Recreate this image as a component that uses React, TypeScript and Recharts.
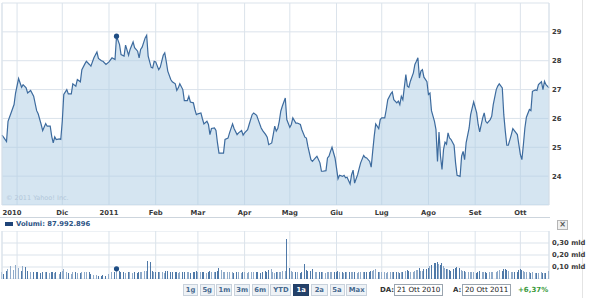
import React from 'react';
import {
  ComposedChart,
  Area,
  Bar,
  Cell,
  XAxis,
  YAxis,
  CartesianGrid,
  ReferenceLine,
  ReferenceDot,
} from 'recharts';

// calendar day offset from 21 Oct 2010
const days = [
  1, 2, 4, 5, 7, 9, 10, 12, 14, 15, 17, 18, 20, 22, 24, 25, 27, 28, 30, 31,
  33, 34, 35, 36, 37, 39, 40, 41, 42, 44, 45, 47, 48, 50, 51, 53, 54, 56, 57, 59,
  60, 62, 64, 65, 67, 68, 70, 72, 74, 76, 77, 79, 80, 82, 83, 85, 86, 88, 89, 91,
  92,
  93, 94, 96, 97, 98, 100, 101, 102, 103, 105, 106, 108, 109, 110, 111, 113, 114, 116, 117, 118,
  119, 121, 122, 124, 125, 126, 128, 129, 130, 131, 133, 134, 135, 137, 138, 139, 140, 142, 143, 144,
  145, 147, 148, 149, 151, 152, 154, 155, 157, 158, 160, 161, 162, 164, 165, 167, 168, 170, 171, 173,
  174, 176, 177, 178, 180, 181, 182, 183, 184,
  185, 186, 187, 189, 190, 192, 193, 194, 196, 197, 199, 200, 202, 203, 204, 206, 207, 209, 210, 212,
  213, 214, 216, 217, 218, 219, 220, 222, 223, 224, 225, 227, 228, 229, 230, 232, 233, 234, 235, 237,
  238, 239, 241, 242, 243, 245, 246, 247, 248, 249, 251, 252, 253, 255, 256, 257, 259, 260, 261, 263,
  264, 265, 266, 267, 269, 270, 271, 272, 274, 275, 276,
  277, 278, 279, 280, 281, 283, 284, 285, 286, 288, 289, 290, 291, 292, 293, 294, 295, 296, 297, 298,
  299, 301, 302, 303, 305, 306, 307, 308, 309, 311, 312, 313, 314, 316, 317, 318, 320, 321, 322, 323,
  325, 326, 327, 329, 330, 331, 333, 334, 335, 336, 337, 339, 340, 341, 343, 344, 345, 346, 347, 348,
  349, 351, 352, 353, 355, 356, 357, 359, 360, 361, 362, 364,
];

const closes = [
  25.42, 25.35, 25.2, 25.9, 26.19, 26.48, 26.88, 27.38, 27.08, 27.17, 27.06, 26.88, 26.97, 26.77, 26.27, 26.16, 25.79, 25.58, 25.82, 25.73,
  25.73, 25.38, 25.15, 25.36, 25.27, 25.29, 25.27, 25.9, 26.83, 27.0, 26.85, 26.85, 27.2, 27.12, 27.35, 27.27, 27.69, 27.89, 27.98, 27.87,
  27.81, 28.1, 28.3, 28.08, 28.0, 27.98, 27.87, 27.96, 28.1, 28.04, 28.85, 28.56, 28.21, 28.16, 28.54, 28.19, 28.39, 28.65, 28.45, 28.33,
  28.1,
  28.39, 28.47, 28.79, 28.88, 28.16, 27.77, 27.75, 27.98, 27.96, 27.69, 27.77, 28.19, 28.27, 27.98, 27.64, 27.35, 27.27, 27.2, 26.97, 27.06,
  27.2, 27.0, 26.62, 26.62, 26.77, 26.57, 26.54, 26.31, 26.13, 26.16, 26.19, 25.99, 25.81, 25.9, 25.79, 25.44, 25.65, 25.67, 25.58, 25.15,
  24.8, 24.8, 24.8, 25.27, 25.32, 25.5, 25.81, 25.65, 25.44, 25.5, 25.58, 25.42, 25.5, 25.61, 25.79, 26.13, 26.19, 26.11, 25.96, 25.67,
  25.58, 25.44, 25.35, 25.09, 25.15, 25.44, 25.73, 25.56, 25.65,
  25.9, 26.25, 26.42, 26.71, 25.96, 25.69, 25.79, 26.02, 25.84, 25.84, 25.79, 25.61, 25.35, 25.32, 25.03, 24.57, 24.51, 24.63, 24.69, 24.46,
  24.17, 24.17, 24.19, 24.63, 24.69, 24.86, 25.0, 24.63, 24.28, 23.91, 24.03, 23.99, 24.03, 23.94, 23.96, 23.73, 24.05, 24.21, 23.76, 24.05,
  24.26, 24.46, 24.72, 24.65, 24.63, 24.51, 24.31, 24.86, 25.38, 25.81, 25.65, 25.96, 26.02, 26.02, 26.31, 26.65, 26.85, 26.92, 26.65, 26.54,
  26.6, 26.48, 26.77, 26.65, 27.52, 27.12, 27.08, 27.29, 27.58, 27.87, 27.98,
  28.1, 27.4, 27.64, 27.69, 27.43, 27.27, 26.83, 26.88, 26.27, 25.9, 25.61, 24.51, 25.53, 24.69, 24.23, 24.92, 25.18, 25.11, 25.5, 25.32,
  25.27, 25.07, 24.46, 24.03, 23.99, 24.69, 24.86, 24.57, 25.15, 25.67, 26.13, 26.36, 26.57, 26.19, 25.79, 25.53, 26.02, 26.19, 25.9, 25.84,
  25.96, 26.08, 26.48, 27.0, 27.12, 27.2, 27.06, 26.13, 25.56, 25.07, 25.07, 25.44, 25.65, 25.58, 25.44, 25.09, 24.75, 24.57, 25.09, 25.67,
  26.04, 26.31, 26.27, 26.94, 26.99, 26.97, 27.17, 27.27, 27.0, 27.29, 27.17, 27.06,
];

// volumes in millions of shares
const volumes = [
  60, 45, 70, 85, 110, 75, 120, 90, 70, 105, 100, 65, 60, 55, 62, 58, 50, 60, 55, 58,
  52, 60, 55, 48, 55, 45, 60, 70, 80, 55, 50, 45, 55, 60, 52, 48, 58, 62, 55, 60,
  45, 35, 32, 28, 25, 30, 22, 40, 55, 60, 85, 70, 55, 60, 50, 58, 55, 52, 60, 48,
  55,
  60, 58, 65, 70, 150, 145, 70, 55, 62, 58, 55, 60, 52, 65, 70, 58, 62, 55, 60, 52,
  58, 62, 55, 60, 58, 52, 55, 60, 65, 58, 62, 55, 60, 52, 58, 65, 55, 60, 58, 70,
  88, 75, 62, 55, 58, 60, 55, 52, 58, 55, 50, 55, 60, 52, 58, 55, 62, 55, 60, 52,
  58, 65, 60, 75, 80, 55, 50, 58, 62,
  60, 55, 70, 65, 330, 95, 70, 60, 55, 58, 52, 60, 125, 75, 70, 65, 80, 60, 55, 62,
  58, 55, 52, 60, 58, 55, 62, 60, 58, 65, 55, 60, 52, 58, 55, 62, 58, 55, 60, 52,
  58, 55, 62, 55, 60, 58, 65, 70, 75, 80, 62, 58, 55, 60, 52, 58, 62, 55, 60, 58,
  55, 52, 58, 62, 70, 75, 65, 58, 62, 68, 72,
  75, 90, 70, 65, 80, 85, 95, 110, 120, 135, 130, 140, 125, 115, 130, 110, 95, 85, 80, 75,
  70, 85, 95, 100, 90, 75, 70, 65, 60, 55, 60, 58, 55, 52, 58, 65, 60, 55, 58, 52,
  60, 55, 58, 62, 70, 75, 65, 80, 85, 75, 70, 62, 58, 55, 60, 72, 80, 78, 70, 62,
  58, 55, 52, 55, 50, 52, 48, 55, 50, 52, 48, 65,
];

const monthTicks = [11, 41, 72, 103, 131, 162, 192, 223, 253, 284, 315, 345];
const monthLabels = ['2010', 'Dic', '2011', 'Feb', 'Mar', 'Apr', 'Mag', 'Giu', 'Lug', 'Ago', 'Set', 'Ott'];
const priceTicks = [23, 24, 25, 26, 27, 28, 29, 30];
const priceLabels = ['', '24', '25', '26', '27', '28', '29', ''];
const volTicks = [0, 100, 200, 300, 400];
const volLabels = ['', '0,10 mld', '0,20 mld', '0,30 mld', ''];
const eventDay = 77;
const ranges = ['1g', '5g', '1m', '3m', '6m', 'YTD', '1a', '2a', '5a', 'Max'];
const selectedRange = '1a';
const fromDate = '21 Ott 2010';
const toDate = '20 Ott 2011';
const changeText = '+6,37%';
const volumeText = 'Volumi: 87.992.896';
const copyright = '© 2011 Yahoo! Inc.';

const priceData = days.map((d, i) => ({
  day: d,
  close: closes[i],
  vol: volumes[i] ?? 0,
  up: i === 0 || closes[i] >= closes[i - 1],
}));
const eventPoint = priceData.find((p) => p.day === eventDay)!;

const FONT = '"DejaVu Sans", Verdana, sans-serif';
const GRID = '#dbe3eb';
const tickStyle: React.CSSProperties = { fontFamily: FONT, fontSize: 6.8, fontWeight: 'bold', fill: '#3a3a3a' };

const MonthTick = (props: any) => {
  const { x, y, payload, index } = props;
  const i = monthTicks.indexOf(payload.value);
  const dx = index === 0 ? -5 : 0;
  return (
    <text x={x + dx} y={y} dy="0.71em" textAnchor="middle" style={tickStyle}>
      {monthLabels[i]}
    </text>
  );
};

const PriceTick = (props: any) => {
  const { x, y, payload } = props;
  const i = priceTicks.indexOf(payload.value);
  return (
    <text x={x} y={y} dy="0.35em" textAnchor="start" style={tickStyle}>
      {priceLabels[i]}
    </text>
  );
};

const VolTick = (props: any) => {
  const { x, y, payload } = props;
  const i = volTicks.indexOf(payload.value);
  return (
    <text x={x} y={y} dy="0.35em" textAnchor="start" style={tickStyle}>
      {volLabels[i]}
    </text>
  );
};

const btnWidths: Record<string, number> = { '1g': 15, '5g': 15, '1m': 16, '3m': 16, '6m': 17, YTD: 21, '1a': 16, '2a': 17, '5a': 15, Max: 21 };

export default function App() {
  return (
    <div style={{ position: 'absolute', left: 0, top: 0, width: 600, height: 298, background: '#fff', overflow: 'hidden' }}>
      <style>{`.volchart .recharts-bar-rectangle path { shape-rendering: crispEdges; }`}</style>
      <div style={{ position: 'absolute', left: 0, top: 0 }}>
        <ComposedChart width={600} height={218} data={priceData} margin={{ top: 3, right: 0, left: 2, bottom: 0 }}>
          <CartesianGrid stroke={GRID} strokeWidth={1} />
          <XAxis
            dataKey="day"
            type="number"
            domain={[1, 364]}
            ticks={monthTicks}
            interval={0}
            tick={<MonthTick />}
            tickLine={false}
            axisLine={false}
            tickSize={0}
            tickMargin={5}
            height={13}
          />
          <YAxis
            orientation="right"
            domain={[23, 30]}
            ticks={priceTicks}
            interval={0}
            tick={<PriceTick />}
            tickLine={false}
            axisLine={false}
            tickSize={0}
            tickMargin={3}
            width={51}
          />
          <ReferenceLine x={1} stroke={GRID} />
          <ReferenceLine x={364} stroke={GRID} />
          <Area
            type="linear"
            dataKey="close"
            stroke="#3d6b9e"
            strokeWidth={1.2}
            fill="#abcbe3"
            fillOpacity={0.5}
            dot={false}
            activeDot={false}
            isAnimationActive={false}
          />
          <ReferenceDot x={eventPoint.day} y={eventPoint.close} r={2.6} fill="#1f4d84" stroke="none" />
        </ComposedChart>
      </div>

      <div style={{ position: 'absolute', left: 6, top: 194, fontFamily: FONT, fontSize: 6.5, color: '#b3c7da' }}>{copyright}</div>

      <div style={{ position: 'absolute', left: 0, top: 217, width: 550, height: 1, background: '#cdd5dd' }} />
      <div style={{ position: 'absolute', left: 582, top: 0, width: 1, height: 298, background: '#e4e4e4' }} />

      <div style={{ position: 'absolute', left: 5, top: 220, display: 'flex', alignItems: 'center', fontFamily: FONT, fontSize: 6.8, fontWeight: 'bold', color: '#2e5485', whiteSpace: 'nowrap' }}>
        <span style={{ display: 'inline-block', width: 8, height: 4, background: '#1f4478', marginRight: 3 }} />
        {volumeText}
      </div>
      <div style={{ position: 'absolute', left: 557, top: 220, width: 9, height: 8, border: '1px solid #b5b5b5', background: '#f0f0f0', fontFamily: FONT, fontSize: 8, fontWeight: 'bold', lineHeight: '8px', textAlign: 'center', color: '#555' }}>×</div>

      <div className="volchart" style={{ position: 'absolute', left: 0, top: 231 }}>
        <ComposedChart width={600} height={48} data={priceData} margin={{ top: 0, right: 0, left: 2, bottom: 0 }}>
          <CartesianGrid stroke={GRID} strokeWidth={1} />
          <XAxis dataKey="day" type="number" domain={[1, 364]} ticks={monthTicks} interval={0} hide />
          <YAxis
            orientation="right"
            domain={[0, 400]}
            ticks={volTicks}
            interval={0}
            tick={<VolTick />}
            tickLine={false}
            axisLine={false}
            tickSize={0}
            tickMargin={3}
            width={51}
          />
          <ReferenceLine x={1} stroke={GRID} />
          <ReferenceLine x={364} stroke={GRID} />
          <Bar dataKey="vol" barSize={1} isAnimationActive={false}>
            {priceData.map((d, i) => (
              <Cell key={i} fill={d.up ? '#90abca' : '#4f79a8'} />
            ))}
          </Bar>
          <ReferenceDot x={eventPoint.day} y={eventPoint.vol} r={2.6} fill="#1f4d84" stroke="none" />
        </ComposedChart>
      </div>

      <div style={{ position: 'absolute', left: 183, top: 284, display: 'flex', gap: 1.7 }}>
        {ranges.map((r) => {
          const sel = r === selectedRange;
          return (
            <div
              key={r}
              style={{
                boxSizing: 'border-box',
                width: btnWidths[r],
                height: 12,
                border: sel ? '1px solid #223f66' : '1px solid #c9d2dc',
                background: sel ? '#24416a' : '#eef2f6',
                color: sel ? '#fff' : '#46698f',
                fontFamily: FONT,
                fontSize: 6.8,
                fontWeight: 'bold',
                lineHeight: '10px',
                textAlign: 'center',
              }}
            >
              {r}
            </div>
          );
        })}
      </div>

      <div style={{ position: 'absolute', left: 380, top: 286, fontFamily: FONT, fontSize: 7, fontWeight: 'bold', color: '#333' }}>DA:</div>
      <div style={{ position: 'absolute', left: 394, top: 284, boxSizing: 'border-box', width: 49, height: 12, border: '1px solid #9aa4ae', background: '#fff', fontFamily: FONT, fontSize: 7.2, lineHeight: '10px', paddingLeft: 2, color: '#222', whiteSpace: 'nowrap' }}>{fromDate}</div>
      <div style={{ position: 'absolute', left: 453, top: 286, fontFamily: FONT, fontSize: 7, fontWeight: 'bold', color: '#333' }}>A:</div>
      <div style={{ position: 'absolute', left: 462, top: 284, boxSizing: 'border-box', width: 49, height: 12, border: '1px solid #9aa4ae', background: '#fff', fontFamily: FONT, fontSize: 7.2, lineHeight: '10px', paddingLeft: 2, color: '#222', whiteSpace: 'nowrap' }}>{toDate}</div>
      <div style={{ position: 'absolute', left: 518, top: 286, fontFamily: FONT, fontSize: 7, fontWeight: 'bold', color: '#3a9a3a' }}>{changeText}</div>
    </div>
  );
}
